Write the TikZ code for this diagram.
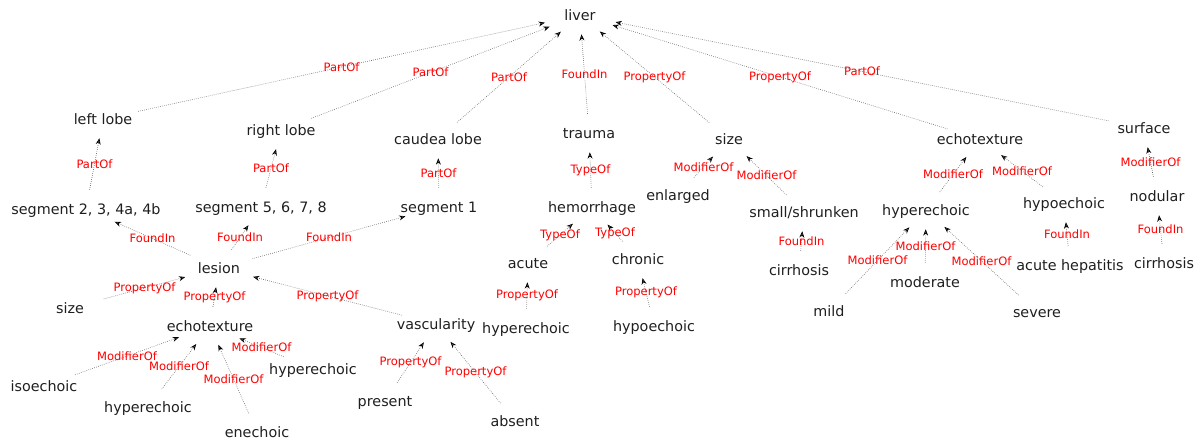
\documentclass[tikz,border=0pt]{standalone}
\usepackage{fontspec}
\setmainfont{DejaVu Sans}
\usetikzlibrary{arrows.meta, shapes.geometric, quotes}

\begin{document}
\begin{tikzpicture}[
      x=0.025cm, y=-0.025cm,
      term/.style={ellipse, inner sep=0pt, minimum width=54pt, minimum height=27pt,
        font=\fontsize{10.2}{12}\selectfont, text=black!88,
        text height=8.5pt, text depth=1pt,
        execute at begin node={\hbox to 0pt\bgroup\hss},
        execute at end node={\hss\egroup}},
      rel/.style={black!60, densely dotted, line width=0.45pt,
        -{Stealth[color=black, length=4.5pt, width=3.5pt]}},
      every edge quotes/.style={font=\fontsize{8.2}{10}\selectfont, text=red, inner sep=0pt}
    ]
    \useasboundingbox (0,0) rectangle (1202,441);

    % top level
    \node[term] (liver)     at (580,15)  {liver};
    \node[term] (leftlobe)  at (103,119) {left lobe};
    \node[term] (rightlobe) at (281,130) {right lobe};
    \node[term] (caudea)    at (438,139) {caudea lobe};
    \node[term] (trauma)    at (589,133) {trauma};
    \node[term] (size)      at (729,139) {size};
    \node[term] (echo)      at (980,139) {echotexture};
    \node[term] (surface)   at (1144,128) {surface};

    % second level
    \node[term] (seg2)      at (86,209)  {segment 2, 3, 4a, 4b};
    \node[term] (seg5)      at (261,207) {segment 5, 6, 7, 8};
    \node[term] (seg1)      at (439,207) {segment 1};
    \node[term] (hemo)      at (592,207) {hemorrhage};
    \node[term] (enlarged)  at (678,195) {enlarged};
    \node[term] (shrunken)  at (804,212) {small/shrunken};
    \node[term] (hyperR)    at (926,210) {hyperechoic};
    \node[term] (hypoR)     at (1064,203) {hypoechoic};
    \node[term] (nodular)   at (1157,196) {nodular};

    % third level
    \node[term] (lesion)    at (219,268) {lesion};
    \node[term] (acute)     at (528,263) {acute};
    \node[term] (chronic)   at (638,259) {chronic};
    \node[term] (cirrM)     at (799,270) {cirrhosis};
    \node[term] (mild)      at (829,311) {mild};
    \node[term] (moderate)  at (925,282) {moderate};
    \node[term] (severe)    at (1037,312) {severe};
    \node[term] (hepatitis) at (1070,265) {acute hepatitis};
    \node[term] (cirrR)     at (1164,263) {cirrhosis};

    % lesion subtree
    \node[term] (sizeL)     at (70,308)  {size};
    \node[term] (echoL)     at (210,326) {echotexture};
    \node[term] (vasc)      at (436,324) {vascularity};
    \node[term] (hyperM)    at (526,328) {hyperechoic};
    \node[term] (hypoM)     at (654,326) {hypoechoic};
    \node[term] (iso)       at (44,386)  {isoechoic};
    \node[term] (hyperBL)   at (148,407) {hyperechoic};
    \node[term] (enechoic)  at (257,432) {enechoic};
    \node[term] (hyperLR)   at (313,369) {hyperechoic};
    \node[term] (present)   at (385,401) {present};
    \node[term] (absent)    at (515,421) {absent};

    \draw [rel]
    (leftlobe)  edge["PartOf"] (liver)
    (rightlobe) edge["PartOf"] (liver)
    (caudea)    edge["PartOf"] (liver)
    (trauma)    edge["FoundIn"] (liver)
    (size)      edge["PropertyOf"] (liver)
    (echo)      edge["PropertyOf"] (liver)
    (surface)   edge["PartOf"] (liver)
    (seg2)      edge["PartOf"] (leftlobe)
    (seg5)      edge["PartOf"] (rightlobe)
    (seg1)      edge["PartOf"] (caudea)
    (hemo)      edge["TypeOf"] (trauma)
    (enlarged)  edge["ModifierOf"] (size)
    (shrunken)  edge["ModifierOf"] (size)
    (hyperR)    edge["ModifierOf"] (echo)
    (hypoR)     edge["ModifierOf"] (echo)
    (nodular)   edge["ModifierOf"] (surface)
    (lesion)    edge["FoundIn"] (seg2)
    (lesion)    edge["FoundIn"] (seg5)
    (lesion)    edge["FoundIn"] (seg1)
    (acute)     edge["TypeOf"] (hemo)
    (chronic)   edge["TypeOf"] (hemo)
    (cirrM)     edge["FoundIn"] (shrunken)
    (mild)      edge["ModifierOf"] (hyperR)
    (moderate)  edge["ModifierOf"] (hyperR)
    (severe)    edge["ModifierOf"] (hyperR)
    (hepatitis) edge["FoundIn"] (hypoR)
    (cirrR)     edge["FoundIn"] (nodular)
    (sizeL)     edge["PropertyOf"] (lesion)
    (echoL)     edge["PropertyOf"] (lesion)
    (vasc)      edge["PropertyOf"] (lesion)
    (hyperM)    edge["PropertyOf"] (acute)
    (hypoM)     edge["PropertyOf"] (chronic)
    (iso)       edge["ModifierOf"] (echoL)
    (hyperBL)   edge["ModifierOf"] (echoL)
    (enechoic)  edge["ModifierOf"] (echoL)
    (hyperLR)   edge["ModifierOf"] (echoL)
    (present)   edge["PropertyOf"] (vasc)
    (absent)    edge["PropertyOf"] (vasc);
  \end{tikzpicture}
\end{document}
